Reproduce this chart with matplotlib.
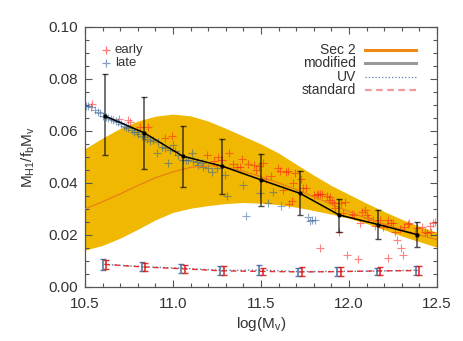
import numpy as np
import matplotlib
matplotlib.use('Agg')
import matplotlib.pyplot as plt
from matplotlib.ticker import MultipleLocator

# ---- data ----
# Sec 2 band and median curve
band_x = [10.5, 10.6, 10.7, 10.8, 10.9, 11.0, 11.1, 11.2, 11.3, 11.4, 11.5,
          11.6, 11.7, 11.8, 11.9, 12.0, 12.1, 12.2, 12.3, 12.4, 12.5]
band_hi = [0.0532, 0.0573, 0.0610, 0.0638, 0.0657, 0.0665, 0.0658, 0.0638, 0.0610, 0.0580, 0.0550,
           0.0515, 0.0472, 0.0430, 0.0390, 0.0356, 0.0322, 0.0290, 0.0260, 0.0233, 0.0210]
band_lo = [0.0142, 0.0160, 0.0188, 0.0222, 0.0258, 0.0287, 0.0303, 0.0313, 0.0321, 0.0325, 0.0322,
           0.0317, 0.0307, 0.0294, 0.0280, 0.0264, 0.0244, 0.0220, 0.0196, 0.0174, 0.0153]
sec2 = [0.0300, 0.0328, 0.0358, 0.0390, 0.0420, 0.0443, 0.0460, 0.0466, 0.0462, 0.0445, 0.0424,
        0.0400, 0.0375, 0.0347, 0.0318, 0.0290, 0.0264, 0.0242, 0.0221, 0.0200, 0.0182]

# binned "modified" relation with scatter
bin_x = [10.611, 10.833, 11.056, 11.278, 11.5, 11.722, 11.944, 12.167, 12.389]
mod_y = [0.0658, 0.0594, 0.0503, 0.0465, 0.0412, 0.0360, 0.0277, 0.0240, 0.0201]
mod_top = [0.0818, 0.0731, 0.0621, 0.0570, 0.0512, 0.0445, 0.0340, 0.0295, 0.0250]
mod_bot = [0.0506, 0.0454, 0.0383, 0.0359, 0.0313, 0.0276, 0.0210, 0.0186, 0.0155]

# UV and standard runs near the bottom
uv_y = [0.0087, 0.0078, 0.0072, 0.0064, 0.0065, 0.0059, 0.0060, 0.0061, 0.0065]
uv_err = [0.0020, 0.0018, 0.0017, 0.0018, 0.0018, 0.0015, 0.0017, 0.0013, 0.0017]
std_y = [0.0087, 0.0077, 0.0070, 0.0062, 0.0060, 0.0058, 0.0059, 0.0062, 0.0063]
std_err = [0.0017, 0.0017, 0.0016, 0.0017, 0.0014, 0.0017, 0.0016, 0.0016, 0.0016]

# individual haloes
early_x = [10.542, 10.695, 10.742, 10.756, 10.813, 10.86, 10.955, 10.993,
           11.191, 11.258, 11.320, 11.235, 11.280, 11.343, 11.362, 11.381, 11.390, 11.424,
           11.462, 11.472, 11.489, 11.509, 11.528, 11.557, 11.595, 11.608, 11.640, 11.652,
           11.693, 11.727, 11.684, 11.741, 11.756, 11.627, 11.674, 11.661, 11.803, 11.826,
           11.816, 11.835, 11.849, 11.873, 11.887, 11.892, 11.902, 11.917, 11.921, 11.955,
           11.977, 11.968, 11.943, 12.015, 12.030, 12.063, 12.072, 12.091, 12.101, 12.110,
           12.138, 12.148, 12.176, 12.195, 12.214, 12.224, 12.239, 12.252, 12.262, 12.271,
           12.290, 12.315, 12.333, 12.341, 12.375, 12.385, 12.413, 12.432, 12.460, 12.466,
           12.479, 12.489, 11.835, 11.991, 12.049, 12.224, 12.296, 12.309, 12.441]
early_y = [0.0703, 0.0646, 0.0642, 0.0633, 0.0617, 0.0614, 0.0574, 0.0581,
           0.0509, 0.0501, 0.0514, 0.0486, 0.0488, 0.0473, 0.0460, 0.0463, 0.0491, 0.0473,
           0.0469, 0.0450, 0.0465, 0.0476, 0.0415, 0.0427, 0.0456, 0.0447, 0.0443, 0.0447,
           0.0437, 0.0414, 0.0401, 0.0382, 0.0379, 0.0373, 0.0331, 0.0318, 0.0354, 0.0356,
           0.0354, 0.0358, 0.0358, 0.0350, 0.0335, 0.0345, 0.0328, 0.0322, 0.0303, 0.0322,
           0.0328, 0.0283, 0.0213, 0.0279, 0.0277, 0.0247, 0.0290, 0.0296, 0.0277, 0.0264,
           0.0258, 0.0234, 0.0258, 0.0232, 0.0238, 0.0258, 0.0247, 0.0245, 0.0213, 0.0181,
           0.0222, 0.0232, 0.0242, 0.0245, 0.0206, 0.0226, 0.0232, 0.0213, 0.0236, 0.0213,
           0.0245, 0.0251, 0.0151, 0.0123, 0.0106, 0.0110, 0.0149, 0.0123, 0.0206]
late_x = [10.506, 10.519, 10.534, 10.557, 10.572, 10.585, 10.604, 10.617, 10.633, 10.648,
          10.661, 10.674, 10.689, 10.705, 10.72, 10.731, 10.746, 10.765, 10.78, 10.794,
          10.803, 10.822, 10.841, 10.852, 10.869, 10.888, 10.907, 10.917, 10.939, 10.955,
          10.973, 10.983, 10.998, 11.011, 11.027, 11.059, 11.074, 11.087, 11.106, 11.116,
          11.134, 11.144, 11.163, 11.172, 11.201, 11.220, 11.248, 11.295, 11.309, 11.400,
          11.494, 11.566, 11.542, 11.614, 11.413, 11.769, 11.788, 11.807, 11.778]
late_y = [0.0697, 0.0695, 0.0691, 0.0679, 0.0674, 0.0668, 0.0659, 0.0655, 0.0649, 0.0646,
          0.0642, 0.0638, 0.0633, 0.0626, 0.0619, 0.0614, 0.0610, 0.0604, 0.0597, 0.0595,
          0.0587, 0.0582, 0.0577, 0.0569, 0.0561, 0.0565, 0.0514, 0.0559, 0.0540, 0.0533,
          0.0475, 0.0527, 0.0546, 0.0523, 0.0508, 0.0488, 0.0488, 0.0488, 0.0514, 0.0484,
          0.0482, 0.0469, 0.0475, 0.0463, 0.0456, 0.0443, 0.0456, 0.0431, 0.0350, 0.0392,
          0.0360, 0.0366, 0.0324, 0.0313, 0.0273, 0.0270, 0.0257, 0.0258, 0.0255]

txt = '#333333'
plt.rcParams['font.family'] = ['Liberation Sans', 'DejaVu Sans']
plt.rcParams['mathtext.default'] = 'regular'

fig = plt.figure(figsize=(4.63, 3.41), dpi=100)
ax = fig.add_axes([0.1836, 0.1584, 0.7603, 0.7625])

ax.fill_between(band_x, band_lo, band_hi, color='#F0B800', lw=0, zorder=1)
ax.plot(early_x, early_y, '+', color='#ff1a1a', ms=5.5, mew=0.8, alpha=0.55, zorder=2)
ax.plot(late_x, late_y, '+', color='#2f5f96', ms=5.5, mew=0.8, alpha=0.55, zorder=2)
ax.plot(band_x, sec2, '-', color='#E8801A', lw=0.9, zorder=3)

bx = np.array(bin_x)
my = np.array(mod_y)
ax.errorbar(bx, my, yerr=[my - np.array(mod_bot), np.array(mod_top) - my], fmt='none',
            ecolor='black', elinewidth=1.1, capsize=2.3, capthick=1.0, alpha=0.7, zorder=3)
ax.plot(bx, my, '-', color='black', lw=1.1, marker='o', ms=2, zorder=4)

ax.plot(bx, uv_y, ':', color='#5a7fb0', lw=1.0, zorder=3)
ax.plot(bx, std_y, '--', color='#e03030', lw=1.0, dashes=(4, 3), zorder=3)
ax.errorbar(bx - 0.01, uv_y, yerr=uv_err, fmt='none', ecolor='#3a6494', elinewidth=1.2,
            capsize=2.5, capthick=1.0, alpha=0.85, zorder=4)
ax.errorbar(bx + 0.01, std_y, yerr=std_err, fmt='none', ecolor='#e01818', elinewidth=1.2,
            capsize=2.5, capthick=1.0, alpha=0.9, zorder=4)

ax.set_xlim(10.5, 12.5)
ax.set_ylim(0.0, 0.10)
ax.xaxis.set_major_locator(MultipleLocator(0.5))
ax.xaxis.set_minor_locator(MultipleLocator(0.1))
ax.yaxis.set_major_locator(MultipleLocator(0.02))
ax.yaxis.set_minor_locator(MultipleLocator(0.005))
ax.set_xticks([10.5, 11.0, 11.5, 12.0, 12.5])
ax.set_xticklabels(['10.5', '11.0', '11.5', '12.0', '12.5'])
ax.set_yticklabels(['%.2f' % v for v in ax.get_yticks()])
ax.tick_params(which='both', direction='in', top=True, right=True, colors='#555555',
               labelcolor=txt, labelsize=11)
ax.tick_params(axis='x', which='both', pad=7)
ax.tick_params(axis='y', which='both', pad=5)
ax.tick_params(which='major', length=5, width=0.8)
ax.tick_params(which='minor', length=3, width=0.8)
for s in ax.spines.values():
    s.set_color('#555555')
    s.set_linewidth(0.9)

ax.set_xlabel(r'log(M$_v$)', color=txt, fontsize=11, labelpad=3)
ax.set_ylabel(r'M$_{H1}$/f$_b$M$_v$', color=txt, fontsize=11, labelpad=8)

# legend, top left
for lab, col, yy in [('early', '#ff1a1a', 0.912), ('late', '#2f5f96', 0.862)]:
    ax.plot([0.06], [yy], '+', color=col, ms=6, mew=0.9, alpha=0.6, transform=ax.transAxes)
    ax.text(0.085, yy, lab, color=txt, fontsize=9.5, va='center', ha='left',
            transform=ax.transAxes)

# legend, top right
leg = [('Sec 2', dict(color='#EE8A14', lw=2.2, ls='-')),
       ('modified', dict(color='#999999', lw=2.2, ls='-')),
       ('UV', dict(color='#5a7fb0', lw=0.9, ls=':')),
       ('standard', dict(color='#f09a9a', lw=1.6, ls=(0, (3, 2))))]
for i, (lab, st) in enumerate(leg):
    yy = 0.912 - i * 0.0515
    ax.text(0.77, yy, lab, color=txt, fontsize=10, va='center', ha='right',
            transform=ax.transAxes)
    ax.plot([0.795, 0.94], [yy, yy], transform=ax.transAxes, **st)

fig.savefig('out.png', dpi=100)
